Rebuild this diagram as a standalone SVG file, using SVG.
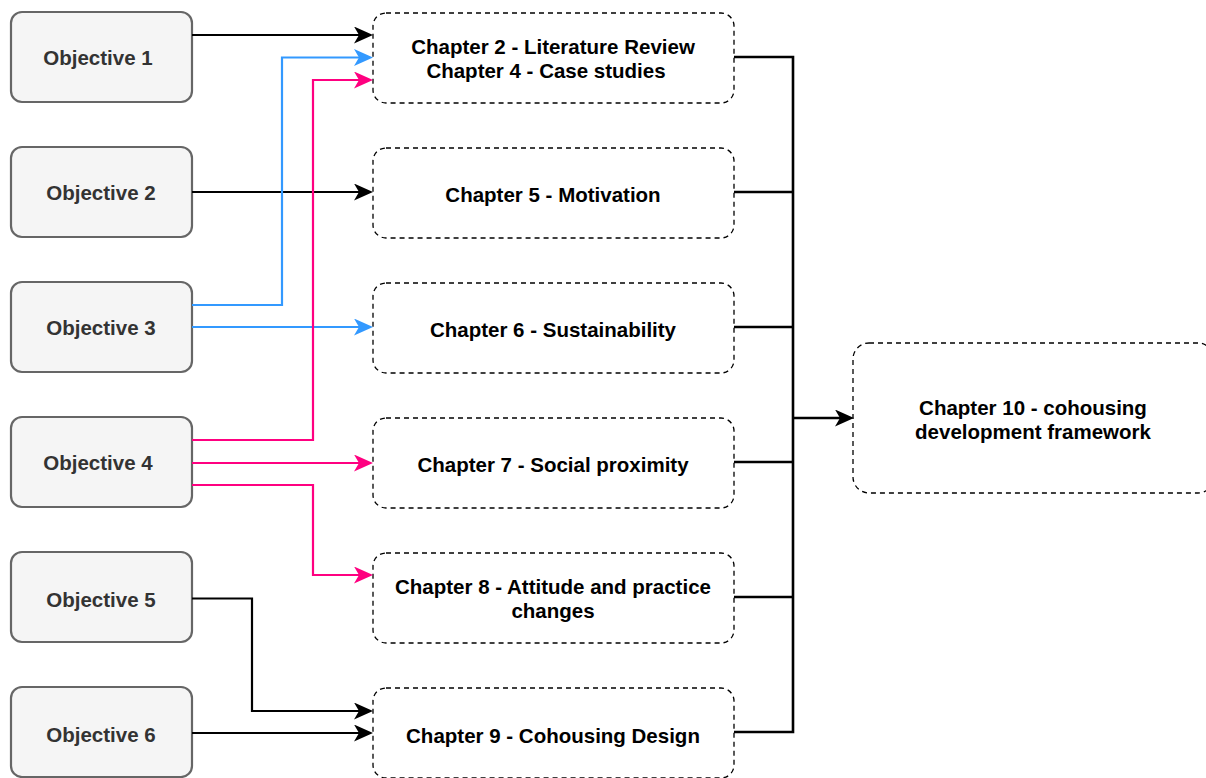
<svg xmlns="http://www.w3.org/2000/svg" width="1206" height="778" viewBox="0 0 1206 778">
  <style>
    .obj rect { fill: #f5f5f5; stroke: #666666; stroke-width: 2.2; }
    .obj text { fill: #333333; }
    .ch rect { fill: #ffffff; stroke: #000000; stroke-width: 1.3; stroke-dasharray: 5 4; }
    .ch text { fill: #000000; }
    text { font-family: "Liberation Sans", Arial, sans-serif; font-weight: bold; font-size: 20.5px; text-anchor: middle; }
    .c { fill: none; stroke-width: 2.2; stroke-linejoin: miter; }
    .k { stroke: #000000; }
    .b { stroke: #3399ff; }
    .p { stroke: #ff0080; }
    .out { fill: none; stroke: #000000; stroke-width: 2.6; }
  </style>
  <defs>
    <marker id="ak" markerUnits="userSpaceOnUse" markerWidth="19" markerHeight="17" refX="6" refY="8.5" orient="auto">
      <path d="M0,0 L19,8.5 L0,17 L5,8.5 Z" fill="#000000"/>
    </marker>
    <marker id="ab" markerUnits="userSpaceOnUse" markerWidth="19" markerHeight="17" refX="6" refY="8.5" orient="auto">
      <path d="M0,0 L19,8.5 L0,17 L5,8.5 Z" fill="#3399ff"/>
    </marker>
    <marker id="ap" markerUnits="userSpaceOnUse" markerWidth="19" markerHeight="17" refX="6" refY="8.5" orient="auto">
      <path d="M0,0 L19,8.5 L0,17 L5,8.5 Z" fill="#ff0080"/>
    </marker>
  </defs>

  <!-- objectives -->
  <g id="objective1" class="obj"><rect x="11" y="12" width="181" height="90" rx="11"/><text x="98" y="65">Objective 1</text></g>
  <g id="objective2" class="obj"><rect x="11" y="147" width="181" height="90" rx="11"/><text x="101" y="200">Objective 2</text></g>
  <g id="objective3" class="obj"><rect x="11" y="282" width="181" height="90" rx="11"/><text x="101" y="335">Objective 3</text></g>
  <g id="objective4" class="obj"><rect x="11" y="417" width="181" height="90" rx="11"/><text x="98" y="470">Objective 4</text></g>
  <g id="objective5" class="obj"><rect x="11" y="552" width="181" height="90" rx="11"/><text x="101" y="607">Objective 5</text></g>
  <g id="objective6" class="obj"><rect x="11" y="687" width="181" height="90" rx="11"/><text x="101" y="742">Objective 6</text></g>

  <!-- chapters -->
  <g id="chapter2-4" class="ch"><rect x="373" y="13" width="361" height="90" rx="13"/><text x="553" y="54">Chapter 2 - Literature Review</text><text x="546" y="78">Chapter 4 - Case studies</text></g>
  <g id="chapter5" class="ch"><rect x="373" y="148" width="361" height="90" rx="13"/><text x="553" y="202">Chapter 5 - Motivation</text></g>
  <g id="chapter6" class="ch"><rect x="373" y="283" width="361" height="90" rx="13"/><text x="553" y="337">Chapter 6 - Sustainability</text></g>
  <g id="chapter7" class="ch"><rect x="373" y="418" width="361" height="90" rx="13"/><text x="553" y="472">Chapter 7 - Social proximity</text></g>
  <g id="chapter8" class="ch"><rect x="373" y="553" width="361" height="90" rx="13"/><text x="553" y="594">Chapter 8 - Attitude and practice</text><text x="553" y="618">changes</text></g>
  <g id="chapter9" class="ch"><rect x="373" y="688" width="361" height="90" rx="13"/><text x="553" y="743">Chapter 9 - Cohousing Design</text></g>
  <g id="chapter10" class="ch"><rect x="853" y="343" width="361" height="150" rx="16"/><text x="1033" y="415">Chapter 10 - cohousing</text><text x="1033" y="439">development framework</text></g>

  <!-- connectors -->
  <g id="connectors">
    <path class="c k" d="M192,35 H360" marker-end="url(#ak)"/>
    <path class="c k" d="M192,192 H360" marker-end="url(#ak)"/>
    <path class="c b" d="M192,305 H282 V57.5 H360" marker-end="url(#ab)"/>
    <path class="c b" d="M192,327 H360" marker-end="url(#ab)"/>
    <path class="c p" d="M192,440 H313 V80 H360" marker-end="url(#ap)"/>
    <path class="c p" d="M192,463 H360" marker-end="url(#ap)"/>
    <path class="c p" d="M192,485 H313 V575 H360" marker-end="url(#ap)"/>
    <path class="c k" d="M192,598.5 H252 V711 H360" marker-end="url(#ak)"/>
    <path class="c k" d="M192,733 H360" marker-end="url(#ak)"/>

    <path class="out" d="M734,57 H793 V732 H734"/>
    <path class="out" d="M734,192 H793 M734,327 H793 M734,462 H793 M734,597 H793"/>
    <path class="out" d="M793,418 H841" marker-end="url(#ak)"/>
  </g>
</svg>
